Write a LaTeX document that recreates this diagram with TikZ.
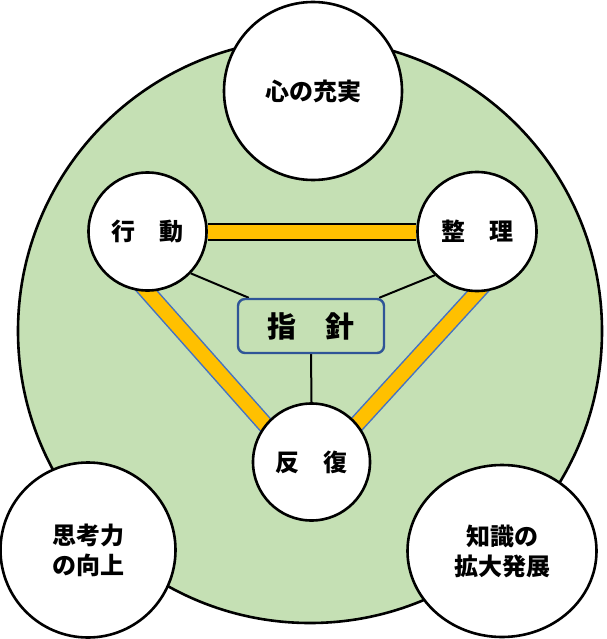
\documentclass[tikz,border=0pt]{standalone}
\usepackage{fontspec}
\newfontfamily\jp{Noto Sans CJK JP}
\usetikzlibrary{shapes.geometric}
\definecolor{lgreen}{HTML}{C5E0B4}
\definecolor{barfill}{HTML}{FFC000}
\definecolor{barblue}{HTML}{4472C4}
\definecolor{boxblue}{HTML}{2F5597}
\pgfdeclarelayer{back}
\pgfdeclarelayer{mid}
\pgfsetlayers{back,mid,main}
\tikzset{
  txt/.style={font=\jp\bfseries\fontsize{24}{30}\selectfont, align=center, inner sep=0pt},
  disc/.style={circle, draw=black, fill=white, line width=2.6pt, txt},
  hbar/.style={draw=black, line width=2pt, double=barfill, double distance=14pt},
  dbar/.style={draw=barblue, line width=1.5pt, double=barfill, double distance=14pt, shorten <=-18pt, shorten >=-18pt},
  link/.style={draw=black, line width=2pt},
}
\begin{document}
\begin{tikzpicture}[x=1pt,y=-1pt]
\useasboundingbox (0,0) rectangle (606,639);
% nodes
\node[disc, minimum size=178pt] (top) at (313,91) {心の充実};
\node[disc, minimum size=118pt] (xd) at (147.5,231.5) {行　動};
\node[disc, minimum size=119pt] (zr) at (477,231.5) {整　理};
\node[disc, minimum size=117pt] (hf) at (311.5,462) {反　復};
\node[disc, minimum size=175pt] (sk) at (88,550) {思考力\\の向上};
\node[disc, ellipse, minimum width=189pt, minimum height=172pt] (cs) at (502,551) {知識の\\拡大発展};
\node[txt, draw=boxblue, fill=lgreen, line width=2.4pt, rounded corners=7pt,
      minimum width=146pt, minimum height=54pt, font=\jp\bfseries\fontsize{29}{34}\selectfont] (zs) at (311,326) {指　針};
% background circle
\begin{pgfonlayer}{back}
\node[circle, draw=black, fill=lgreen, line width=2.6pt, minimum size=584pt] (bg) at (310,331) {};
\end{pgfonlayer}
% bars and links
\begin{pgfonlayer}{mid}
\draw[hbar] (xd) -- (zr);
\draw[dbar] (xd.south) -- (hf.141);
\draw[dbar] (zr.south) -- (hf.40);
\draw[link] (xd.-44) -- ([xshift=12pt]zs.north west);
\draw[link] (zr.-134) -- ([xshift=-6pt]zs.north east);
\draw[link] (zs.south) -- (hf.north);
\end{pgfonlayer}
\end{tikzpicture}
\end{document}
